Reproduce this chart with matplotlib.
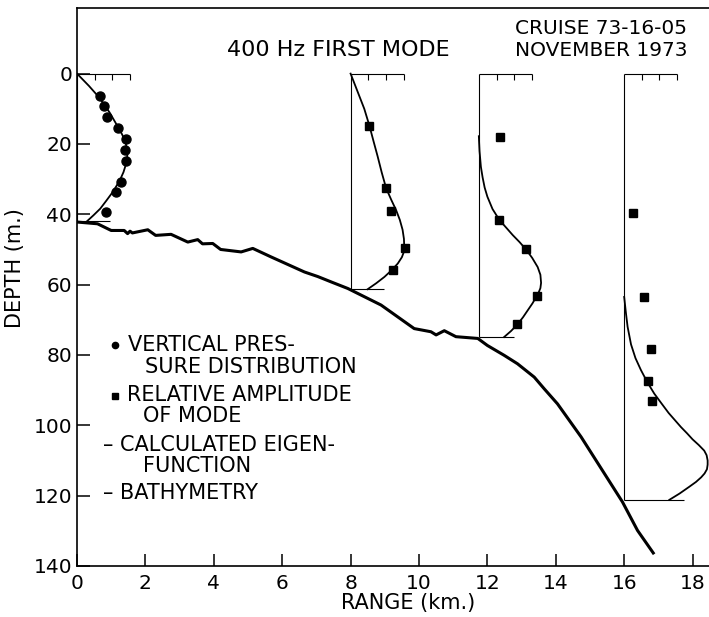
import matplotlib
matplotlib.use("Agg")
import matplotlib.pyplot as plt

plt.rcParams["font.family"] = ["DejaVu Sans"]

# bathymetry along the track: range (km), depth (m)
bathy_range = [0.0, 0.6, 1.0, 1.38, 1.48, 1.55, 1.62, 2.07, 2.3, 2.75, 3.24, 3.53,
               3.67, 3.97, 4.2, 4.8, 5.14, 5.67, 6.65, 7.04, 7.45, 7.92, 8.89, 9.86,
               10.35, 10.5, 10.74, 11.08, 11.72, 12.0, 12.49, 12.88, 13.37, 13.66,
               14.05, 14.74, 15.42, 15.95, 16.39, 16.85]
bathy_depth = [42.2, 42.7, 44.6, 44.6, 45.5, 44.8, 45.3, 44.4, 46.0, 45.7, 47.9, 47.2,
               48.4, 48.3, 50.0, 50.7, 49.7, 52.1, 56.4, 57.7, 59.3, 61.1, 65.8, 72.5,
               73.4, 74.3, 73.1, 74.8, 75.3, 77.3, 80.1, 82.5, 86.3, 89.6,
               93.9, 103.3, 113.7, 121.8, 129.9, 136.3]

# measuring stations: range of the profile origin, local water depth, end of floor line
station_range = [0.0, 8.0, 11.75, 16.0]
station_bottom = [42.0, 61.3, 74.9, 121.2]
station_floor_end = [0.97, 8.98, 12.77, 17.75]
scale_ticks = [0.52, 1.03, 1.55]

# vertical pressure distribution at the first station
pressure_range = [0.66, 0.80, 0.89, 1.20, 1.42, 1.40, 1.42, 1.28, 1.14, 0.85]
pressure_depth = [6.5, 9.2, 12.2, 15.4, 18.7, 21.8, 24.8, 30.8, 33.6, 39.3]

# relative amplitude of the mode at the other stations
amp_range = [8.55, 9.04, 9.18, 9.59, 9.23,
             12.37, 12.35, 13.13, 13.45, 12.88,
             16.26, 16.57, 16.78, 16.71, 16.80]
amp_depth = [14.8, 32.6, 39.1, 49.6, 55.7,
             18.1, 41.6, 50.0, 63.3, 71.3,
             39.5, 63.5, 78.3, 87.5, 93.0]

# calculated eigenfunctions, one per station
eigen_1_range = [0.0, 0.35, 0.65, 0.95, 1.2, 1.32, 1.42, 1.47, 1.47, 1.43, 1.36, 1.25,
                 1.05, 0.86, 0.68, 0.48, 0.29]
eigen_1_depth = [0.0, 3.5, 6.8, 11.0, 15.2, 17.3, 19.6, 21.8, 23.6, 25.8, 28.0, 30.4,
                 33.6, 36.1, 38.4, 40.3, 42.0]
eigen_2_range = [8.0, 8.2, 8.4, 8.55, 8.67, 8.79, 8.91, 9.04, 9.19, 9.33, 9.44, 9.52,
                 9.56, 9.57, 9.55, 9.5, 9.38, 9.2, 8.99, 8.75, 8.5]
eigen_2_depth = [0.0, 5.0, 10.0, 14.8, 19.2, 23.5, 28.1, 32.6, 35.9, 38.8, 41.6, 44.4,
                 47.0, 49.6, 50.9, 52.2, 54.0, 55.9, 57.8, 59.6, 61.3]
eigen_3_range = [11.75, 11.77, 11.81, 11.86, 11.92, 12.0, 12.15, 12.35, 12.55, 12.74,
                 12.94, 13.13, 13.31, 13.47, 13.55, 13.57, 13.55, 13.5, 13.44, 13.32,
                 13.18, 13.04, 12.88, 12.69, 12.49]
eigen_3_depth = [17.8, 22.0, 26.5, 29.5, 32.4, 35.0, 38.5, 41.6, 43.8, 45.9,
                 47.9, 50.0, 52.4, 55.0, 57.2, 59.5, 61.0, 62.2, 63.3, 65.3,
                 67.3, 69.3, 71.3, 73.2, 74.9]
eigen_4_range = [16.0, 16.05, 16.1, 16.2, 16.33, 16.49, 16.68, 16.88, 17.1, 17.3,
                 17.48, 17.66, 17.84, 18.0, 18.18, 18.34, 18.41, 18.44, 18.44, 18.42,
                 18.35, 18.25, 18.1, 17.9, 17.62, 17.32]
eigen_4_depth = [63.5, 68.0, 72.0, 77.0, 80.9, 84.3, 87.8, 91.0, 93.9, 96.5,
                 98.5, 100.5, 102.3, 104.0, 105.6, 107.2, 108.5, 110.0, 111.2, 112.5,
                 113.7, 114.8, 116.1, 117.5, 119.4, 121.2]

legend_lines = ["VERTICAL PRES-", "SURE DISTRIBUTION", "RELATIVE AMPLITUDE",
                "OF MODE", "\u2013 CALCULATED EIGEN-", "FUNCTION", "\u2013 BATHYMETRY"]

fig = plt.figure(figsize=(7.09, 6.17), dpi=100)
ax = fig.add_axes([0.1086, 0.0827, 0.8914, 0.904])
ax.set_xlim(0, 18.48)
ax.set_ylim(140, -18.6)
ax.spines["right"].set_visible(False)
for s in ("left", "bottom", "top"):
    ax.spines[s].set_linewidth(1.2)
ax.set_xticks(range(0, 19, 2))
ax.set_yticks(range(0, 141, 20))
ax.tick_params(direction="in", length=9, width=1.1, labelsize=14.5)
ax.tick_params(axis="x", pad=6)
ax.tick_params(axis="y", pad=3.5)

k = dict(color="black", lw=0.8, solid_capstyle="butt")
for x0, bot, end in zip(station_range, station_bottom, station_floor_end):
    ax.plot([x0, x0], [0, bot], **k)
    ax.plot([x0, x0 + scale_ticks[-1]], [0, 0], **k)
    for t in scale_ticks:
        ax.plot([x0 + t, x0 + t], [0, 1.7], **k)
    ax.plot([x0, end], [bot, bot], **k)

ax.plot(bathy_range, bathy_depth, color="black", lw=2.2, solid_joinstyle="round")
for xr, yd in [(eigen_1_range, eigen_1_depth), (eigen_2_range, eigen_2_depth),
               (eigen_3_range, eigen_3_depth), (eigen_4_range, eigen_4_depth)]:
    ax.plot(xr, yd, color="black", lw=1.3, solid_joinstyle="round")

ax.plot(pressure_range, pressure_depth, "o", color="black", ms=6.5, ls="none")
ax.plot(amp_range, amp_depth, "s", color="black", ms=6.3, ls="none")

# key, lettered straight onto the plot
ax.plot([1.12], [77.1], "o", color="black", ms=4.5)
ax.plot([1.12], [91.8], "s", color="black", ms=4.5)
fs = 15
ax.text(1.50, 77.1, legend_lines[0], fontsize=fs, va="center")
ax.text(1.99, 83.3, legend_lines[1], fontsize=fs, va="center")
ax.text(1.47, 91.3, legend_lines[2], fontsize=fs, va="center")
ax.text(1.94, 97.3, legend_lines[3], fontsize=fs, va="center")
ax.text(0.77, 105.5, legend_lines[4], fontsize=fs, va="center")
ax.text(1.94, 111.7, legend_lines[5], fontsize=fs, va="center")
ax.text(0.77, 119.3, legend_lines[6], fontsize=fs, va="center")

ax.text(7.63, -6.7, "400 Hz FIRST MODE", fontsize=16, ha="center", va="center")
ax.text(12.8, -12.9, "CRUISE 73-16-05", fontsize=14.5, va="center")
ax.text(12.8, -6.7, "NOVEMBER 1973", fontsize=14.5, va="center")

fig.text(408 / 709, 1 - 603 / 617, "RANGE (km.)", fontsize=15, ha="center", va="center")
fig.text(15 / 709, 1 - 268 / 617, "DEPTH (m.)", fontsize=15, ha="center", va="center",
         rotation=90)

fig.savefig("out.png", dpi=100)
